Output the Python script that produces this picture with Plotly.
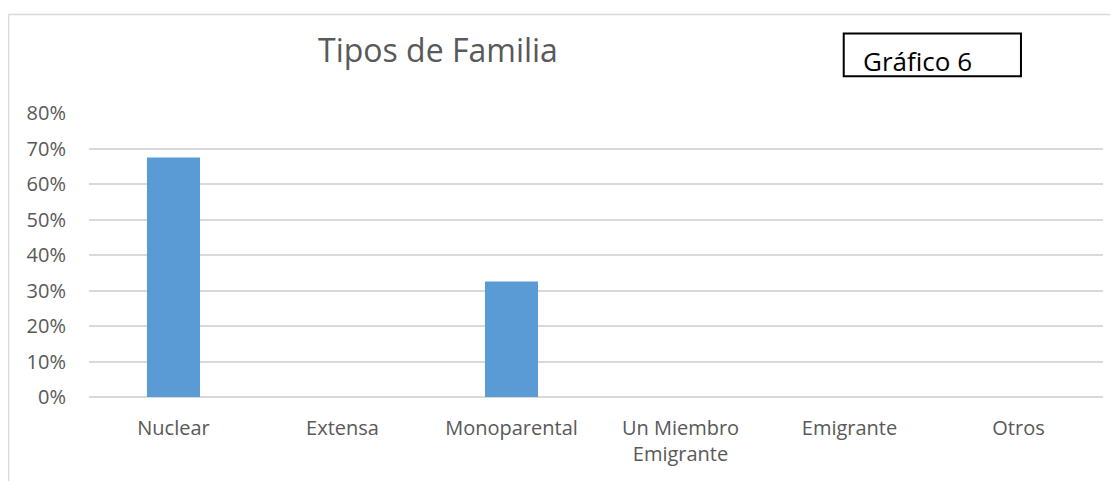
import plotly.graph_objects as go

categories = ["Nuclear", "Extensa", "Monoparental", "Un Miembro<br>Emigrante", "Emigrante", "Otros"]
values = [0.6744, 0.0, 0.3256, 0.0, 0.0, 0.0]
y_ticks = [0, 0.1, 0.2, 0.3, 0.4, 0.5, 0.6, 0.7, 0.8]
y_labels = ["0%", "10%", "20%", "30%", "40%", "50%", "60%", "70%", "80%"]
title_text = "Tipos de Familia"
box_text = "Gráfico 6"

FONT = "Open Sans"
GREY = "#595959"
GRID = "#d9d9d9"

fig = go.Figure()
fig.add_trace(go.Bar(x=categories, y=values, marker=dict(color="#5B9BD5", line=dict(width=0)),
                     hoverinfo="skip"))

# the page has an 8px body margin, so the figure is shrunk and margins shifted by 8px
fig.update_layout(
    width=1110, height=473,
    margin=dict(l=81, r=15, t=105, b=84, autoexpand=False),
    paper_bgcolor="white", plot_bgcolor="white",
    bargap=0.686,
    showlegend=False,
    font=dict(family=FONT, color=GREY, size=20),
)
fig.update_xaxes(showgrid=False, showline=False, zeroline=False, ticks="",
                 tickfont=dict(family=FONT, size=20, color=GREY), ticklabelstandoff=17,
                 fixedrange=True)
fig.update_yaxes(range=[0, 0.8], tickvals=y_ticks, ticktext=y_labels, showgrid=True,
                 gridcolor=GRID, gridwidth=1.5, zeroline=True, zerolinecolor=GRID, zerolinewidth=1.5,
                 showline=False, ticks="", tickfont=dict(family=FONT, size=20, color=GREY),
                 ticklabelstandoff=22, fixedrange=True)

# outer chart border (top + left)
fig.add_shape(type="line", xref="paper", yref="paper", x0=-0.0794, x1=1.03, y0=1.3465, y1=1.3465,
              line=dict(color=GRID, width=1.5))
fig.add_shape(type="line", xref="paper", yref="paper", x0=-0.0794, x1=-0.0794, y0=1.3465, y1=-0.35,
              line=dict(color=GRID, width=1.5))

# title
fig.add_annotation(text=title_text, xref="paper", yref="paper", x=0.3437, y=1.2225,
                   xanchor="center", yanchor="middle", showarrow=False,
                   font=dict(family=FONT, size=32, color=GREY))

# Gráfico 6 box
fig.add_shape(type="rect", xref="paper", yref="paper", x0=0.7443, x1=0.9191, y0=1.1292, y1=1.2796,
              line=dict(color="black", width=2), fillcolor="rgba(0,0,0,0)")
fig.add_annotation(text=box_text, xref="paper", yref="paper", x=0.8166, y=1.182,
                   xanchor="center", yanchor="middle", showarrow=False,
                   font=dict(family=FONT, size=26, color="black"))

fig.write_html("out.html")
